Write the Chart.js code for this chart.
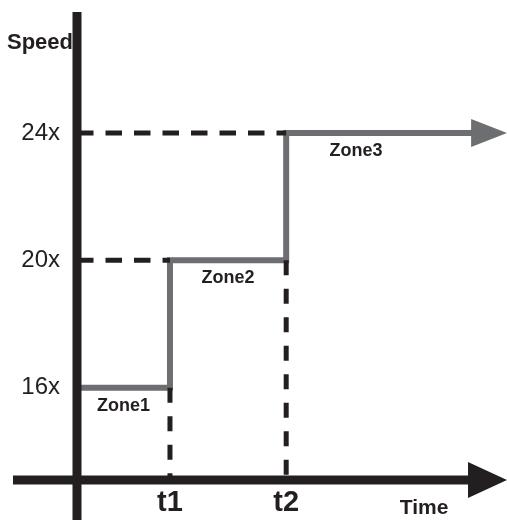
<!DOCTYPE html>
<html>
<head>
<meta charset="utf-8">
<script src="https://cdn.jsdelivr.net/npm/chart.js@4.4.1/dist/chart.umd.min.js"></script>
<style>
  html, body { margin: 0; padding: 0; background: #fff; }
  #wrap { width: 507px; height: 520px; position: relative; }
</style>
</head>
<body>
<div id="wrap"><canvas id="speedChart"></canvas></div>
<script>
// Values
const timeTicks = [4, 9];
const timeLabels = ['t1', 't2'];
const speedTicks = [16, 20, 24];
const speedLabels = ['16x', '20x', '24x'];
const stepTimes = [0, 4, 9, 17];
const stepSpeeds = [16, 20, 24, 24];
const zoneNames = ['Zone1', 'Zone2', 'Zone3'];
const zoneMidTimes = [2, 6.5, 12];
const zoneSpeeds = [16, 20, 24];

const timeMin = 0, timeMax = 18.5;
const speedMin = 13.1, speedMax = 27.8;

const INK = '#231f20';
const GREY = '#6d6e71';
const SANS = '"Liberation Sans", Arial, sans-serif';
const NARROW = '"Liberation Sans Narrow", "Liberation Sans", Arial, sans-serif';

// dashed guide lines: across to each step corner, and down from each corner
const guides = [];
timeTicks.forEach(function(t, i) {
    guides.push([{x: timeMin, y: speedTicks[i + 1]}, {x: t, y: speedTicks[i + 1]}]);
    guides.push([{x: t, y: speedTicks[i]}, {x: t, y: speedMin}]);
});

const datasets = guides.map(function(pts, i) {
    return {
        data: pts,
        borderColor: INK,
        borderWidth: 5,
        borderDash: i % 2 === 0 ? [16.5, 12] : [15, 13.5],
        borderCapStyle: 'butt',
        pointRadius: 0,
        fill: false
    };
});

datasets.push({
    data: stepTimes.map(function(t, i) { return {x: t, y: stepSpeeds[i]}; }),
    borderColor: GREY,
    borderWidth: 6,
    borderJoinStyle: 'miter',
    borderCapStyle: 'butt',
    stepped: true,
    pointRadius: 0,
    fill: false
});

const axesPlugin = {
    id: 'axesPlugin',
    afterDatasetsDraw: function(chart) {
        const ctx = chart.ctx;
        const area = chart.chartArea;
        const xs = chart.scales.x, ys = chart.scales.y;
        ctx.save();

        // arrow head on the speed line
        const meta = chart.getDatasetMeta(datasets.length - 1);
        const last = meta.data[meta.data.length - 1];
        ctx.fillStyle = GREY;
        ctx.beginPath();
        ctx.moveTo(last.x - 1, last.y - 14);
        ctx.lineTo(last.x + 35, last.y);
        ctx.lineTo(last.x - 1, last.y + 14);
        ctx.closePath();
        ctx.fill();

        // axes
        ctx.fillStyle = INK;
        const ax = area.left, ay = area.bottom;
        ctx.fillRect(13, ay - 4.5, 456 - 1, 9);
        ctx.beginPath();
        ctx.moveTo(468, ay - 18);
        ctx.lineTo(507, ay);
        ctx.lineTo(468, ay + 18);
        ctx.closePath();
        ctx.fill();
        ctx.fillRect(ax - 4.5, 12, 9, 520 - 12);

        // zone labels
        ctx.fillStyle = INK;
        ctx.font = 'bold 18px ' + SANS;
        ctx.textAlign = 'center';
        ctx.textBaseline = 'middle';
        zoneNames.forEach(function(name, i) {
            ctx.fillText(name, xs.getPixelForValue(zoneMidTimes[i]), ys.getPixelForValue(zoneSpeeds[i]) + 18);
        });

        // axis names
        ctx.font = 'bold 22px ' + NARROW;
        ctx.fillText('Speed', 40, 43);
        ctx.font = 'bold 21px ' + NARROW;
        ctx.fillText('Time', 424, 508);
        ctx.restore();
    }
};

const ctx = document.getElementById('speedChart').getContext('2d');
new Chart(ctx, {
    type: 'line',
    data: { datasets: datasets },
    options: {
        responsive: true,
        maintainAspectRatio: false,
        animation: false,
        layout: { padding: { top: 12, right: 0, bottom: 0, left: 0 } },
        plugins: {
            legend: { display: false },
            tooltip: { enabled: false }
        },
        scales: {
            x: {
                type: 'linear',
                min: timeMin,
                max: timeMax,
                grid: { display: false, drawTicks: false },
                border: { display: false },
                ticks: {
                    color: INK,
                    padding: 6,
                    font: { family: SANS, size: 29, weight: 'bold' },
                    callback: function(v) { return timeLabels[timeTicks.indexOf(v)]; }
                },
                afterBuildTicks: function(scale) {
                    scale.ticks = timeTicks.map(function(v) { return {value: v}; });
                },
                afterFit: function(scale) {
                    scale.height = 40;
                    scale.paddingLeft = 0;
                    scale.paddingRight = 0;
                }
            },
            y: {
                type: 'linear',
                min: speedMin,
                max: speedMax,
                grid: { display: false, drawTicks: false },
                border: { display: false },
                ticks: {
                    color: INK,
                    padding: 17,
                    font: { family: SANS, size: 24 },
                    callback: function(v) { return speedLabels[speedTicks.indexOf(v)]; }
                },
                afterBuildTicks: function(scale) {
                    scale.ticks = speedTicks.map(function(v) { return {value: v}; });
                },
                afterFit: function(scale) {
                    scale.width = 77;
                    scale.paddingTop = 0;
                    scale.paddingBottom = 0;
                }
            }
        }
    },
    plugins: [axesPlugin]
});
</script>
</body>
</html>
